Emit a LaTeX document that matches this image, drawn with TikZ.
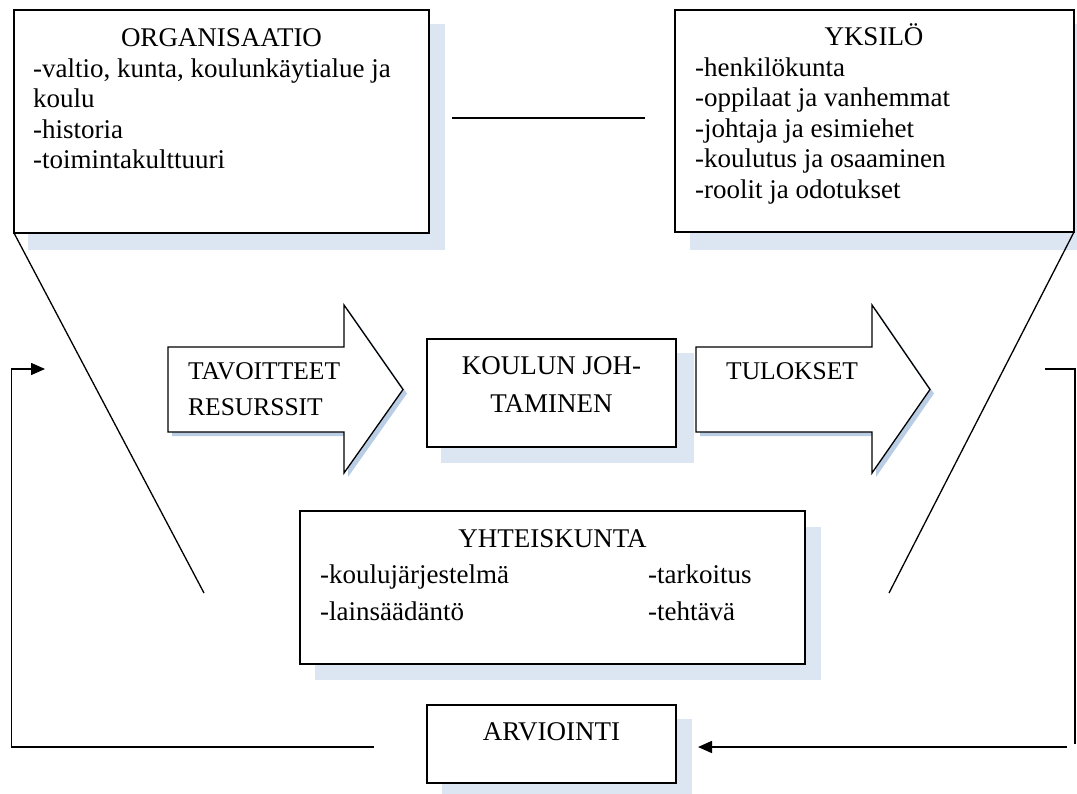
\documentclass[tikz,border=0pt]{standalone}
\usepackage{fontspec}
\setmainfont{Liberation Serif}
\usetikzlibrary{arrows.meta}
\definecolor{shadowc}{HTML}{DCE6F2}
\definecolor{ashadow}{HTML}{B9CDE5}
\begin{document}
\begin{tikzpicture}[x=1pt,y=-1pt,
  box/.style={draw=black, line width=1.7pt, fill=white, inner sep=0pt, outer sep=0pt, anchor=north west},
  shade/.style={fill=shadowc},
  txt/.style={inner sep=0pt, font=\fontsize{27}{30.5}\selectfont},
  atxt/.style={inner sep=0pt, font=\fontsize{25.5}{30}\selectfont},
  ln/.style={line width=1.3pt},
  fb/.style={line width=1.5pt},
  tip/.style={-{Triangle[length=14pt,width=12pt]}},
  blockarrow/.style={draw=black, line width=1.3pt, fill=white, line join=miter}]
\useasboundingbox (0,0) rectangle (1077,794);

% shadows
\fill[shade] (28,24) rectangle (445,250);
\fill[shade] (690,24) rectangle (1077,250);
\fill[shade] (441,353) rectangle (694,463);
\fill[shade] (315,527) rectangle (821,680);
\fill[shade] (442,719) rectangle (692,794);

% boxes
\node[box, minimum width=415pt, minimum height=223pt] (org) at (14,10) {};
\node[box, minimum width=399pt, minimum height=222pt] (yks) at (675,10) {};
\node[box, minimum width=249pt, minimum height=108pt] (kj) at (427,339) {};
\node[box, minimum width=505pt, minimum height=153pt] (yht) at (300,511) {};
\node[box, minimum width=249pt, minimum height=78pt] (arvio) at (427,705) {};

% ORGANISAATIO text
\node[txt, anchor=base] (orgT) at (221.5,47) {ORGANISAATIO};
\node[txt, anchor=base west] (org1) at (33,77.5) {-valtio, kunta, koulunkäytialue ja};
\node[txt, anchor=base west] (org2) at (33,108) {koulu};
\node[txt, anchor=base west] (org3) at (33,138.5) {-historia};
\node[txt, anchor=base west] (org4) at (33,169) {-toimintakulttuuri};

% YKSILÖ text
\node[txt, anchor=base] (yksT) at (874,46) {YKSILÖ};
\node[txt, anchor=base west] (yks1) at (695,76.5) {-henkilökunta};
\node[txt, anchor=base west] (yks2) at (695,107) {-oppilaat ja vanhemmat};
\node[txt, anchor=base west] (yks3) at (695,137.5) {-johtaja ja esimiehet};
\node[txt, anchor=base west] (yks4) at (695,168) {-koulutus ja osaaminen};
\node[txt, anchor=base west] (yks5) at (695,198.5) {-roolit ja odotukset};

% block arrows
\fill[ashadow, shift={(4,4)}] (168,347) -- (344,347) -- (344,305) -- (403,389.5) -- (344,473) -- (344,432) -- (168,432) -- cycle;
\filldraw[blockarrow] (168,347) -- (344,347) -- (344,305) -- (403,389.5) -- (344,473) -- (344,432) -- (168,432) -- cycle;
\fill[ashadow, shift={(4,4)}] (696,347) -- (872,347) -- (872,305) -- (930,389.5) -- (872,473) -- (872,432) -- (696,432) -- cycle;
\filldraw[blockarrow] (696,347) -- (872,347) -- (872,305) -- (930,389.5) -- (872,473) -- (872,432) -- (696,432) -- cycle;

\node[atxt, anchor=base west] (tav) at (188,380) {TAVOITTEET};
\node[atxt, anchor=base west] (res) at (188,416) {RESURSSIT};
\node[atxt, anchor=base west] (tul) at (726,380) {TULOKSET};

% KOULUN JOHTAMINEN
\node[txt, anchor=base] (kj1) at (551.5,375) {KOULUN JOH-};
\node[txt, anchor=base] (kj2) at (551.5,413) {TAMINEN};

% YHTEISKUNTA
\node[txt, anchor=base] (yhtT) at (552.5,547) {YHTEISKUNTA};
\node[txt, anchor=base west] (yht1) at (320,583) {-koulujärjestelmä};
\node[txt, anchor=base west] (yht2) at (320,620) {-lainsäädäntö};
\node[txt, anchor=base west] (yht3) at (648,583) {-tarkoitus};
\node[txt, anchor=base west] (yht4) at (648,620) {-tehtävä};

% ARVIOINTI
\node[txt, anchor=base] (arvT) at (551.5,740) {ARVIOINTI};

% connector coordinates
\coordinate (midL) at (452,118);
\coordinate (midR) at (645,118);
\coordinate (diagL) at (204,593);
\coordinate (diagR) at (889,593);
\coordinate (fbR1) at (1045,369);
\coordinate (fbR2) at (1075,744);
\coordinate (fbR3) at (1067,747);
\coordinate (arvR) at (698,747);
\coordinate (fbL1) at (374,747);
\coordinate (fbL2) at (11.5,369);
\coordinate (fbL3) at (45,369);

% lines
\draw[ln] (midL) -- (midR);
\draw[ln] (org.south west) -- (diagL);
\draw[ln] (yks.south east) -- (diagR);

% feedback
\draw[ln] (fbR1) -| (fbR2);
\draw[fb, tip] (fbR3) -- (arvR);
\draw[fb, tip] (fbL1) -| (fbL2) -- (fbL3);
\end{tikzpicture}
\end{document}
